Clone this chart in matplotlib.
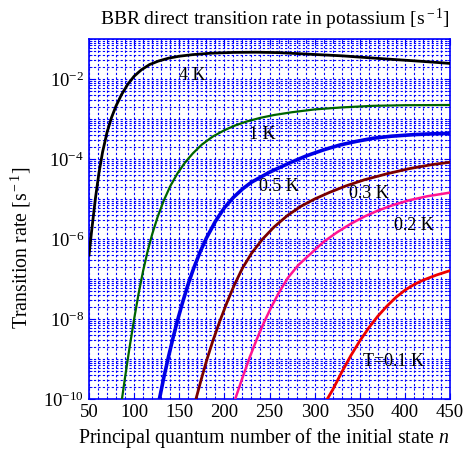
import matplotlib

matplotlib.use("Agg")
import matplotlib.pyplot as plt
from matplotlib.ticker import FixedLocator, LogLocator, MultipleLocator, NullFormatter
import numpy as np

# values: n and log10 of the rate (1/s)
n_4K = [50, 53, 57, 61, 65, 70, 75, 80, 86, 93, 100, 108, 117, 127, 138, 150, 165,
        185, 210, 235, 260, 290, 330, 380, 420, 450]
lg_4K = [-6.4, -5.78, -5.0, -4.35, -3.83, -3.33, -2.96, -2.67, -2.39, -2.13, -1.93,
         -1.77, -1.64, -1.55, -1.48, -1.43, -1.39, -1.355, -1.335, -1.33, -1.34,
         -1.375, -1.42, -1.5, -1.56, -1.61]

n_1K = [86.5, 90, 95, 100, 105, 110, 115, 120, 126, 133, 140, 148, 156, 165, 175,
        187, 200, 212, 225, 240, 255, 275, 300, 330, 365, 400, 450]
lg_1K = [-10.0, -9.45, -8.7, -8.0, -7.36, -6.79, -6.3, -5.88, -5.45, -5.03, -4.68,
         -4.36, -4.1, -3.86, -3.64, -3.44, -3.28, -3.16, -3.06, -2.97, -2.9, -2.83,
         -2.76, -2.71, -2.67, -2.655, -2.65]

n_05K = [128, 133, 138, 143, 148, 154, 160, 166, 173, 180, 190, 200, 210, 220, 230,
         250, 272, 291, 310, 328, 346, 365, 385, 410, 430, 450]
lg_05K = [-10.0, -9.45, -8.95, -8.48, -8.04, -7.56, -7.12, -6.73, -6.33, -5.98, -5.56,
          -5.22, -4.96, -4.75, -4.58, -4.33, -4.1, -3.92, -3.77, -3.65, -3.56, -3.48,
          -3.43, -3.39, -3.37, -3.36]

n_03K = [168.5, 174, 180, 187, 195, 203, 211, 220, 230, 242, 255, 270, 285, 300, 317,
         335, 355, 380, 405, 430, 450]
lg_03K = [-10.0, -9.54, -9.06, -8.56, -8.05, -7.58, -7.15, -6.73, -6.36, -6.01, -5.7,
          -5.41, -5.18, -5.0, -4.83, -4.67, -4.52, -4.37, -4.24, -4.14, -4.08]

n_02K = [212, 220, 228, 236, 244, 252, 260, 270, 282, 295, 310, 325, 340, 355, 370,
         387, 405, 425, 450]
lg_02K = [-10.0, -9.47, -8.96, -8.5, -8.08, -7.7, -7.36, -6.98, -6.65, -6.38, -6.07,
          -5.83, -5.62, -5.44, -5.29, -5.15, -5.03, -4.93, -4.84]

n_01K = [314, 320, 330, 340, 350, 360, 370, 380, 390, 400, 410, 420, 435, 450]
lg_01K = [-10.0, -9.77, -9.33, -8.92, -8.55, -8.22, -7.93, -7.68, -7.46, -7.28, -7.14,
          -7.03, -6.9, -6.79]

curve_labels = ["4 K", "1 K", "0.5 K", "0.3 K", "0.2 K", "T=0.1 K"]
label_n = [164, 242, 260, 360, 410, 387]
label_r = [1.26e-2, 4.2e-4, 2.0e-5, 1.4e-5, 2.2e-6, 8.5e-10]

xtick_vals = [50, 100, 150, 200, 250, 300, 350, 400, 450]
ytick_vals = [1e-10, 1e-8, 1e-6, 1e-4, 1e-2]
ytick_labels = [r"$10^{-10}$", r"$10^{-8}$", r"$10^{-6}$", r"$10^{-4}$", r"$10^{-2}$"]

plt.rcParams["font.family"] = ["Liberation Serif", "DejaVu Serif"]
plt.rcParams["mathtext.fontset"] = "custom"
plt.rcParams["mathtext.rm"] = "Liberation Serif"
plt.rcParams["mathtext.it"] = "Liberation Serif:italic"

fig = plt.figure(figsize=(4.67, 4.5), dpi=100)
ax = fig.add_axes([0.1906, 0.1133, 0.773, 0.800])

grid_kw = dict(color="blue", linestyle=(0, (2, 2)), linewidth=0.8)
ax.set_yscale("log")
ax.set_xlim(50, 450)
ax.set_ylim(1e-10, 1e-1)

ax.xaxis.set_major_locator(FixedLocator(xtick_vals))
ax.xaxis.set_minor_locator(MultipleLocator(10))
ax.yaxis.set_major_locator(FixedLocator(ytick_vals))
ax.set_yticklabels(ytick_labels)
ax.yaxis.set_minor_locator(LogLocator(base=10, subs=np.arange(1, 10), numticks=200))
ax.yaxis.set_minor_formatter(NullFormatter())
ax.grid(True, which="both", **grid_kw)
ax.set_axisbelow(True)

series = [
    (n_4K, lg_4K, "black", 2.0),
    (n_1K, lg_1K, "#006400", 1.6),
    (n_05K, lg_05K, "#0000e6", 2.6),
    (n_03K, lg_03K, "#7a0000", 2.0),
    (n_02K, lg_02K, "#ff1493", 1.8),
    (n_01K, lg_01K, "#ee0000", 2.0),
]
for xs, lg, c, lw in series:
    ax.plot(xs, 10.0 ** np.array(lg), color=c, linewidth=lw, zorder=3)

for txt, xn, yr in zip(curve_labels, label_n, label_r):
    ax.text(xn, yr, txt, fontsize=13, ha="center", va="center", zorder=4)

for sp in ax.spines.values():
    sp.set_color("blue")
    sp.set_linewidth(1.2)
ax.tick_params(axis="both", which="both", direction="in", color="blue",
               top=True, right=True, labelsize=13.5)
ax.tick_params(which="major", length=4)
ax.tick_params(which="minor", length=2)

ax.set_xlabel(r"Principal quantum number of the initial state $n$", fontsize=14.3)
ax.set_ylabel(r"Transition rate [s$^{\rm -1}$]", fontsize=14.3)
ax.xaxis.set_label_coords(0.485, -0.075)
ax.yaxis.set_label_coords(-0.155, 0.42)
fig.text(275 / 467, 1 - 19 / 450, r"BBR direct transition rate in potassium [s$^{\rm -1}$]",
         fontsize=14, ha="center", va="center")

fig.savefig("out.png", dpi=100)
plt.close(fig)
